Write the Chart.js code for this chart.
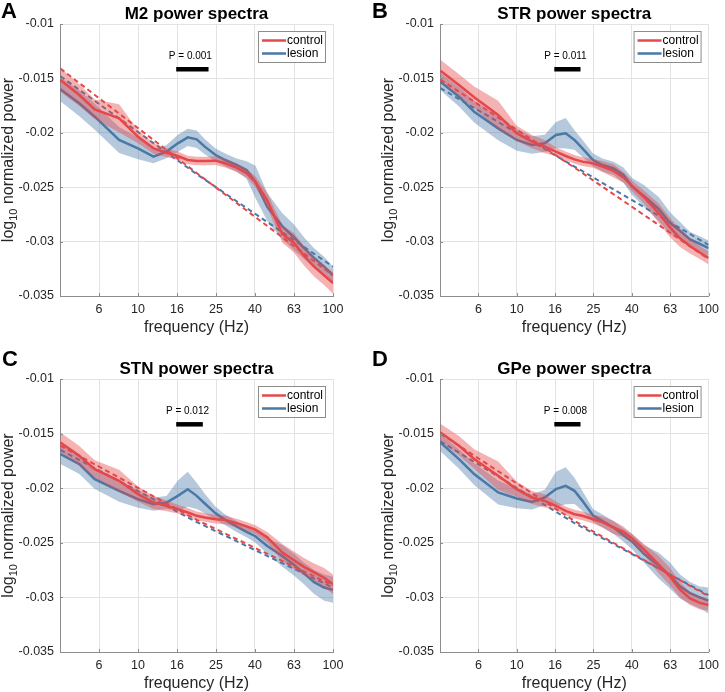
<!DOCTYPE html>
<html>
<head>
<meta charset="utf-8">
<title>power spectra</title>
<script src="https://cdn.jsdelivr.net/npm/chart.js@4.4.1/dist/chart.umd.min.js"></script>
<style>
  body { margin: 0; background: #fff; }
  #wrap { position: relative; width: 725px; height: 692px; }
  #wrap canvas { position: absolute; }
</style>
</head>
<body>
<div id="wrap">
  <canvas id="panelA" width="362" height="346" style="left:0;top:0"></canvas>
  <canvas id="panelB" width="363" height="346" style="left:362px;top:0"></canvas>
  <canvas id="panelC" width="362" height="346" style="left:0;top:346px"></canvas>
  <canvas id="panelD" width="363" height="346" style="left:362px;top:346px"></canvas>
</div>
<script>
// frequency bins (Hz); the 50 Hz bin is blanked out (line noise) -> null
const freqs = [4, 5, 6, 8, 10, 12, 14, 16, 18, 20, 22, 25, 28, 32, 36, 40, 46, 50, 55, 63, 71, 80, 90, 100];

// M2
const m2Control    = [-0.01515, -0.01653, -0.01784, -0.01867, -0.02036, -0.02143, -0.02183, -0.02213, -0.0225, -0.02259, -0.02259, -0.02256, -0.0228, -0.0232, -0.0237, -0.0245, -0.0262, null, -0.0293, -0.0301, -0.0313, -0.0323, -0.0331, -0.0338];
const m2ControlSem = [0.0011, 0.0010, 0.0009, 0.0013, 0.0006, 0.0005, 0.0004, 0.0004, 0.0004, 0.0004, 0.0004, 0.0004, 0.0004, 0.0004, 0.0004, 0.0005, 0.0007, null, 0.0008, 0.0009, 0.0009, 0.0009, 0.0009, 0.0010];
const m2Lesion     = [-0.0160, -0.01729, -0.01852, -0.02066, -0.02143, -0.02219, -0.02173, -0.02097, -0.02042, -0.0206, -0.02127, -0.02204, -0.0225, -0.02296, -0.02342, -0.0245, -0.0268, null, -0.0286, -0.0296, -0.0306, -0.0315, -0.0323, -0.0331];
const m2LesionSem  = [0.0011, 0.0012, 0.0012, 0.0012, 0.0010, 0.0006, 0.0006, 0.0008, 0.0008, 0.0008, 0.0007, 0.0006, 0.0006, 0.0006, 0.0008, 0.0015, 0.0013, null, 0.0012, 0.0012, 0.0010, 0.0009, 0.0009, 0.0008];

// STR
const strControl    = [-0.01429, -0.01561, -0.01674, -0.01836, -0.02005, -0.02081, -0.02127, -0.02173, -0.02213, -0.02244, -0.02265, -0.02281, -0.0231, -0.0235, -0.0241, -0.0249, -0.0259, null, -0.0274, -0.0287, -0.0297, -0.0304, -0.0310, -0.0315];
const strControlSem = [0.0010, 0.0010, 0.0010, 0.0013, 0.0007, 0.0006, 0.0006, 0.0004, 0.0004, 0.0004, 0.0004, 0.0004, 0.0005, 0.0006, 0.0005, 0.0005, 0.0006, null, 0.0009, 0.0009, 0.0008, 0.0007, 0.0006, 0.0006];
const strLesion     = [-0.0153, -0.01668, -0.01806, -0.01959, -0.02066, -0.02112, -0.02097, -0.0202, -0.02005, -0.02066, -0.02143, -0.0225, -0.02296, -0.02327, -0.02388, -0.02495, -0.0258, null, -0.0270, -0.0283, -0.0290, -0.0298, -0.0302, -0.0306];
const strLesionSem  = [0.0008, 0.0009, 0.0010, 0.0011, 0.0010, 0.0008, 0.0008, 0.0012, 0.0014, 0.0009, 0.0008, 0.0006, 0.0006, 0.0006, 0.0007, 0.0008, 0.0010, null, 0.0011, 0.0010, 0.0008, 0.0007, 0.0007, 0.0007];

// STN
const stnControl    = [-0.01581, -0.01703, -0.01825, -0.01932, -0.02054, -0.02131, -0.02161, -0.02192, -0.02222, -0.02253, -0.02268, -0.02284, -0.0229, -0.0232, -0.0235, -0.0238, -0.0245, null, -0.0259, -0.0266, -0.0272, -0.0277, -0.0282, -0.0288];
const stnControlSem = [0.0009, 0.0009, 0.0008, 0.0010, 0.0007, 0.0006, 0.0005, 0.0004, 0.0004, 0.0004, 0.0004, 0.0004, 0.0004, 0.0004, 0.0004, 0.0004, 0.0005, null, 0.0008, 0.0008, 0.0008, 0.0008, 0.0009, 0.0009];
const stnLesion     = [-0.01688, -0.01779, -0.01917, -0.02024, -0.0210, -0.02146, -0.02131, -0.0207, -0.0201, -0.0207, -0.0214, -0.0223, -0.0229, -0.0235, -0.0240, -0.0244, -0.0253, null, -0.0262, -0.0270, -0.0278, -0.0286, -0.0291, -0.0293];
const stnLesionSem  = [0.0009, 0.0009, 0.0009, 0.0010, 0.0008, 0.0006, 0.0006, 0.0014, 0.0016, 0.0012, 0.0009, 0.0006, 0.0005, 0.0005, 0.0005, 0.0006, 0.0007, null, 0.0010, 0.0010, 0.0010, 0.0011, 0.0012, 0.0012];

// GPe
const gpeControl    = [-0.01489, -0.01611, -0.01733, -0.01886, -0.02009, -0.02085, -0.02116, -0.02161, -0.02207, -0.02238, -0.02253, -0.02284, -0.0231, -0.0236, -0.0240, -0.0246, -0.0256, null, -0.0270, -0.0281, -0.0293, -0.0301, -0.0305, -0.0307];
const gpeControlSem = [0.0008, 0.0009, 0.0009, 0.0013, 0.0007, 0.0006, 0.0006, 0.0004, 0.0004, 0.0004, 0.0004, 0.0004, 0.0005, 0.0006, 0.0005, 0.0004, 0.0005, null, 0.0008, 0.0008, 0.0007, 0.0006, 0.0006, 0.0005];
const gpeLesion     = [-0.01581, -0.01733, -0.01871, -0.02039, -0.02094, -0.02125, -0.02085, -0.02009, -0.01978, -0.02024, -0.02116, -0.0225, -0.0230, -0.0236, -0.0243, -0.0249, -0.0260, null, -0.0271, -0.0280, -0.0290, -0.0296, -0.0300, -0.0303];
const gpeLesionSem  = [0.0008, 0.0009, 0.0010, 0.0011, 0.0009, 0.0007, 0.0007, 0.0016, 0.0017, 0.0012, 0.0009, 0.0006, 0.0006, 0.0006, 0.0006, 0.0007, 0.0008, null, 0.0012, 0.0012, 0.0011, 0.0010, 0.0010, 0.0012];

// 1/f fits (dashed)
const fitFreqs = [4, 20, 100];
const m2ControlFit  = [-0.0141, -0.0237, -0.0331];
const m2LesionFit   = [-0.0148, -0.0238, -0.0323];
const strControlFit = [-0.0151, -0.0232, -0.0316];
const strLesionFit  = [-0.0159, -0.0231, -0.0303];
const stnControlFit = [-0.0161, -0.0229, -0.0289];
const stnLesionFit  = [-0.0165, -0.0231, -0.0291];
const gpeControlFit = [-0.0150, -0.0230, -0.0299];
const gpeLesionFit  = [-0.0157, -0.0232, -0.0298];

// significant band (control vs lesion)
const sigFrom  = [15.7, 15.7, 15.7, 15.7];
const sigTo    = [23, 21.5, 21.5, 21.5];
const sigLevel = -0.01415;
const sigText  = ['P = 0.001', 'P = 0.011', 'P = 0.012', 'P = 0.008'];

// axes
const xMin = 3.981, xMax = 100;
const xTickVals   = [6.31, 10, 15.85, 25.12, 39.81, 63.1, 100];
const xTickLabels = ['6', '10', '16', '25', '40', '63', '100'];
const yTickVals   = [-0.035, -0.03, -0.025, -0.02, -0.015, -0.01];
const yTickLabels = ['-0.035', '-0.03', '-0.025', '-0.02', '-0.015', '-0.01'];

const FONT = '"Liberation Sans", Arial, Helvetica, sans-serif';
const RED = 'rgb(229,72,74)';
const BLUE = 'rgb(72,121,167)';
const RED_BAND = 'rgba(229,72,74,0.42)';
const BLUE_BAND = 'rgba(72,121,167,0.40)';
const AXIS = '#8c8c8c';

Chart.defaults.font.family = FONT;
Chart.defaults.color = '#262626';

const panels = [
  { id: 'panelA', letter: 'A', letterX: 1,  letterY: 18, title: 'M2 power spectra',
    ctrl: m2Control, ctrlSem: m2ControlSem, les: m2Lesion, lesSem: m2LesionSem, ctrlFit: m2ControlFit, lesFit: m2LesionFit,
    area: { left: 60, top: 24, right: 333, bottom: 296 } },
  { id: 'panelB', letter: 'B', letterX: 10, letterY: 18, title: 'STR power spectra',
    ctrl: strControl, ctrlSem: strControlSem, les: strLesion, lesSem: strLesionSem, ctrlFit: strControlFit, lesFit: strLesionFit,
    area: { left: 78, top: 24, right: 352, bottom: 296 } },
  { id: 'panelC', letter: 'C', letterX: 2,  letterY: 20, title: 'STN power spectra',
    ctrl: stnControl, ctrlSem: stnControlSem, les: stnLesion, lesSem: stnLesionSem, ctrlFit: stnControlFit, lesFit: stnLesionFit,
    area: { left: 60, top: 33, right: 333, bottom: 306 } },
  { id: 'panelD', letter: 'D', letterX: 10, letterY: 20, title: 'GPe power spectra',
    ctrl: gpeControl, ctrlSem: gpeControlSem, les: gpeLesion, lesSem: gpeLesionSem, ctrlFit: gpeControlFit, lesFit: gpeLesionFit,
    area: { left: 78, top: 33, right: 352, bottom: 306 } }
];

const pts = (xs, ys) => xs.map((x, i) => ({ x: x, y: ys[i] }));
const band = (ys, sem, sign) => ys.map((y, i) => (y === null ? null : y + sign * sem[i]));

// titles, letters, y label with subscript, legend box, P value and inward ticks
const panelText = {
  id: 'panelText',
  afterDraw(chart, args, o) {
    const { ctx, chartArea: a, scales } = chart;
    const cx = (a.left + a.right) / 2;
    ctx.save();

    // inward tick marks
    ctx.strokeStyle = AXIS;
    ctx.lineWidth = 1;
    ctx.beginPath();
    xTickVals.forEach(v => {
      const px = Math.round(scales.x.getPixelForValue(v)) + 0.5;
      ctx.moveTo(px, a.bottom); ctx.lineTo(px, a.bottom - 3);
    });
    yTickVals.forEach(v => {
      const py = Math.round(scales.y.getPixelForValue(v)) + 0.5;
      ctx.moveTo(a.left, py); ctx.lineTo(a.left + 3, py);
    });
    ctx.stroke();

    ctx.fillStyle = '#000';
    ctx.textAlign = 'left';
    ctx.textBaseline = 'alphabetic';
    ctx.font = 'bold 22px ' + FONT;
    ctx.fillText(o.letter, o.letterX, o.letterY);

    ctx.textAlign = 'center';
    ctx.textBaseline = 'middle';
    ctx.font = 'bold 17px ' + FONT;
    ctx.fillText(o.title, cx, a.top - 10);

    ctx.fillStyle = '#262626';
    ctx.font = '16px ' + FONT;
    ctx.fillText('frequency (Hz)', cx, a.bottom + 32);

    // y title: log10 normalized power
    ctx.save();
    ctx.translate(a.left - 51, (a.top + a.bottom) / 2);
    ctx.rotate(-Math.PI / 2);
    const main = '16px ' + FONT, sub = '11px ' + FONT;
    ctx.font = main; const w1 = ctx.measureText('log').width;
    const w3 = ctx.measureText(' normalized power').width;
    ctx.font = sub; const w2 = ctx.measureText('10').width;
    let x0 = -(w1 + w2 + w3) / 2;
    ctx.textAlign = 'left';
    ctx.font = main; ctx.fillText('log', x0, 0);
    ctx.font = sub; ctx.fillText('10', x0 + w1, 5);
    ctx.font = main; ctx.fillText(' normalized power', x0 + w1 + w2, 0);
    ctx.restore();

    // significance label
    const bx = (scales.x.getPixelForValue(sigFrom[o.sig]) + scales.x.getPixelForValue(sigTo[o.sig])) / 2;
    const by = scales.y.getPixelForValue(sigLevel);
    ctx.fillStyle = '#000';
    ctx.font = '10px ' + FONT;
    ctx.textAlign = 'center';
    ctx.fillText(sigText[o.sig], bx - 2, by - 13);

    // legend
    const lw = 67, lh = 31;
    const lx = a.right - 8 - lw, ly = a.top + 7;
    ctx.fillStyle = '#fff';
    ctx.fillRect(lx, ly, lw, lh);
    ctx.strokeStyle = '#8c8c8c';
    ctx.lineWidth = 1;
    ctx.strokeRect(lx + 0.5, ly + 0.5, lw, lh);
    [['control', RED, 9.5], ['lesion', BLUE, 22.5]].forEach(([label, col, dy]) => {
      ctx.strokeStyle = col;
      ctx.lineWidth = 2.5;
      ctx.beginPath();
      ctx.moveTo(lx + 4, ly + dy); ctx.lineTo(lx + 28, ly + dy);
      ctx.stroke();
      ctx.fillStyle = '#000';
      ctx.font = '12px ' + FONT;
      ctx.textAlign = 'left';
      ctx.fillText(label, lx + 29, ly + dy);
    });
    ctx.restore();
  }
};

panels.forEach((p, idx) => {
  const canvas = document.getElementById(p.id);
  const W = canvas.width, H = canvas.height;
  const ar = p.area;

  const datasets = [
    { label: 'sig', data: [{ x: sigFrom[idx], y: sigLevel }, { x: sigTo[idx], y: sigLevel }],
      borderColor: '#000', borderWidth: 4.5, borderCapStyle: 'butt', pointRadius: 0, order: 0 },
    { label: 'control fit', data: pts(fitFreqs, p.ctrlFit), borderColor: RED, borderWidth: 2,
      borderDash: [5, 3.5], pointRadius: 0, order: 1 },
    { label: 'control', data: pts(freqs, p.ctrl), borderColor: RED, borderWidth: 2.5, pointRadius: 0, order: 2 },
    { label: 'control hi', data: pts(freqs, band(p.ctrl, p.ctrlSem, 1)), borderWidth: 0, pointRadius: 0,
      backgroundColor: RED_BAND, fill: '+1', order: 3 },
    { label: 'control lo', data: pts(freqs, band(p.ctrl, p.ctrlSem, -1)), borderWidth: 0, pointRadius: 0, order: 4 },
    { label: 'lesion fit', data: pts(fitFreqs, p.lesFit), borderColor: BLUE, borderWidth: 2,
      borderDash: [5, 3.5], pointRadius: 0, order: 5 },
    { label: 'lesion', data: pts(freqs, p.les), borderColor: BLUE, borderWidth: 2.5, pointRadius: 0, order: 6 },
    { label: 'lesion hi', data: pts(freqs, band(p.les, p.lesSem, 1)), borderWidth: 0, pointRadius: 0,
      backgroundColor: BLUE_BAND, fill: '+1', order: 7 },
    { label: 'lesion lo', data: pts(freqs, band(p.les, p.lesSem, -1)), borderWidth: 0, pointRadius: 0, order: 8 }
  ];

  new Chart(canvas, {
    type: 'line',
    data: { datasets },
    options: {
      responsive: false,
      animation: false,
      events: [],
      spanGaps: true,   // the blanked 50 Hz bin is bridged, as in the figure
      layout: { padding: { left: 0, top: ar.top, right: W - ar.right, bottom: 0 } },
      elements: { line: { tension: 0 } },
      scales: {
        x: {
          type: 'logarithmic',
          min: xMin,
          max: xMax,
          afterBuildTicks: s => { s.ticks = xTickVals.map(v => ({ value: v })); },
          afterFit: s => { s.height = H - ar.bottom; },
          ticks: {
            callback: (v, i) => xTickLabels[i],
            font: { size: 12.5 },
            color: '#262626',
            padding: 6,
            maxRotation: 0,
            autoSkip: false
          },
          grid: { color: '#e3e3e3', drawTicks: false },
          border: { color: AXIS, width: 1 }
        },
        y: {
          type: 'linear',
          min: -0.035,
          max: -0.01,
          afterBuildTicks: s => { s.ticks = yTickVals.map(v => ({ value: v })); },
          afterFit: s => { s.width = ar.left; },
          ticks: {
            callback: (v, i) => yTickLabels[i],
            font: { size: 12.5 },
            color: '#262626',
            padding: 6
          },
          grid: { color: '#e3e3e3', drawTicks: false },
          border: { color: AXIS, width: 1 }
        }
      },
      plugins: {
        legend: { display: false },
        tooltip: { enabled: false },
        filler: { propagate: false },
        panelText: { letter: p.letter, letterX: p.letterX, letterY: p.letterY, title: p.title, sig: idx }
      }
    },
    plugins: [panelText]
  });
});
</script>
</body>
</html>
